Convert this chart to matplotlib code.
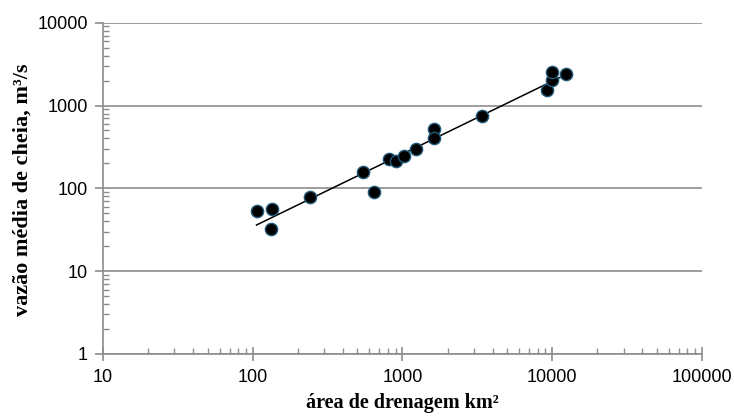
import numpy as np
import matplotlib
matplotlib.use("Agg")
import matplotlib.pyplot as plt
from matplotlib.ticker import LogLocator, NullFormatter, FixedLocator, FixedFormatter

# Data
area_km2 = [106, 134, 132, 241, 547, 648, 811, 899, 1022, 1230, 1628, 1628, 3375, 9160, 9890, 9890, 12270]
vazao_m3s = [54, 56, 32, 78, 158, 90, 224, 214, 248, 296, 516, 408, 753, 1540, 2030, 2560, 2400]

x_ticks = [10, 100, 1000, 10000, 100000]
x_tick_labels = ["10", "100", "1000", "10000", "100000"]
y_ticks = [1, 10, 100, 1000, 10000]
y_tick_labels = ["1", "10", "100", "1000", "10000"]

xlabel = "área de drenagem km²"
ylabel = "vazão média de cheia, m³/s"

fig = plt.figure(figsize=(7.34, 4.17), dpi=100)
ax = fig.add_axes([0.1403, 0.1511, 0.8161, 0.7945])
ax.set_xscale("log")
ax.set_yscale("log")
ax.set_xlim(10, 100000)
ax.set_ylim(1, 10000)

grid_c = "#8c8c8c"
ax.yaxis.grid(True, which="major", color=grid_c, linewidth=1.2)
ax.set_axisbelow(True)
for s in ["top", "right"]:
    ax.spines[s].set_visible(False)
for s in ["left", "bottom"]:
    ax.spines[s].set_color(grid_c)
    ax.spines[s].set_linewidth(1.2)

# power-law trendline (least squares in log space, as in spreadsheet trendline)
lx = np.log10(area_km2)
ly = np.log10(vazao_m3s)
b, a = np.polyfit(lx, ly, 1)
xt = np.array([min(area_km2), max(area_km2)])
yt = 10 ** (a + b * np.log10(xt))
ax.plot(xt, yt, color="black", linewidth=1.1, zorder=2)

ax.scatter(area_km2, vazao_m3s, s=78, facecolor="black", edgecolor="#1f5a7a",
           linewidth=1.0, zorder=3)

ax.xaxis.set_major_locator(FixedLocator(x_ticks))
ax.xaxis.set_major_formatter(FixedFormatter(x_tick_labels))
ax.yaxis.set_major_locator(FixedLocator(y_ticks))
ax.yaxis.set_major_formatter(FixedFormatter(y_tick_labels))
ax.xaxis.set_minor_locator(LogLocator(base=10, subs=np.arange(2, 10), numticks=20))
ax.yaxis.set_minor_locator(LogLocator(base=10, subs=np.arange(2, 10), numticks=20))
ax.xaxis.set_minor_formatter(NullFormatter())
ax.yaxis.set_minor_formatter(NullFormatter())

ax.tick_params(axis="x", which="major", direction="inout", length=10, width=1.2,
               color=grid_c, pad=6, labelsize=13)
ax.tick_params(axis="x", which="minor", direction="in", length=4, width=1.0, color=grid_c)
ax.tick_params(axis="y", which="major", direction="out", length=6, width=1.2,
               color=grid_c, pad=5, labelsize=13)
ax.tick_params(axis="y", which="minor", direction="in", length=4.5, width=1.0, color=grid_c)
for lab in ax.get_xticklabels() + ax.get_yticklabels():
    lab.set_fontfamily("Liberation Sans")

ax.set_xlabel(xlabel, family="Liberation Serif", fontweight="bold", fontsize=14.5)
ax.xaxis.set_label_coords(0.5, -0.118)
ax.set_ylabel(ylabel, family="Liberation Serif", fontweight="bold", fontsize=16)
ax.yaxis.set_label_coords(-0.118, 0.495)

fig.savefig("out.png", dpi=100)
